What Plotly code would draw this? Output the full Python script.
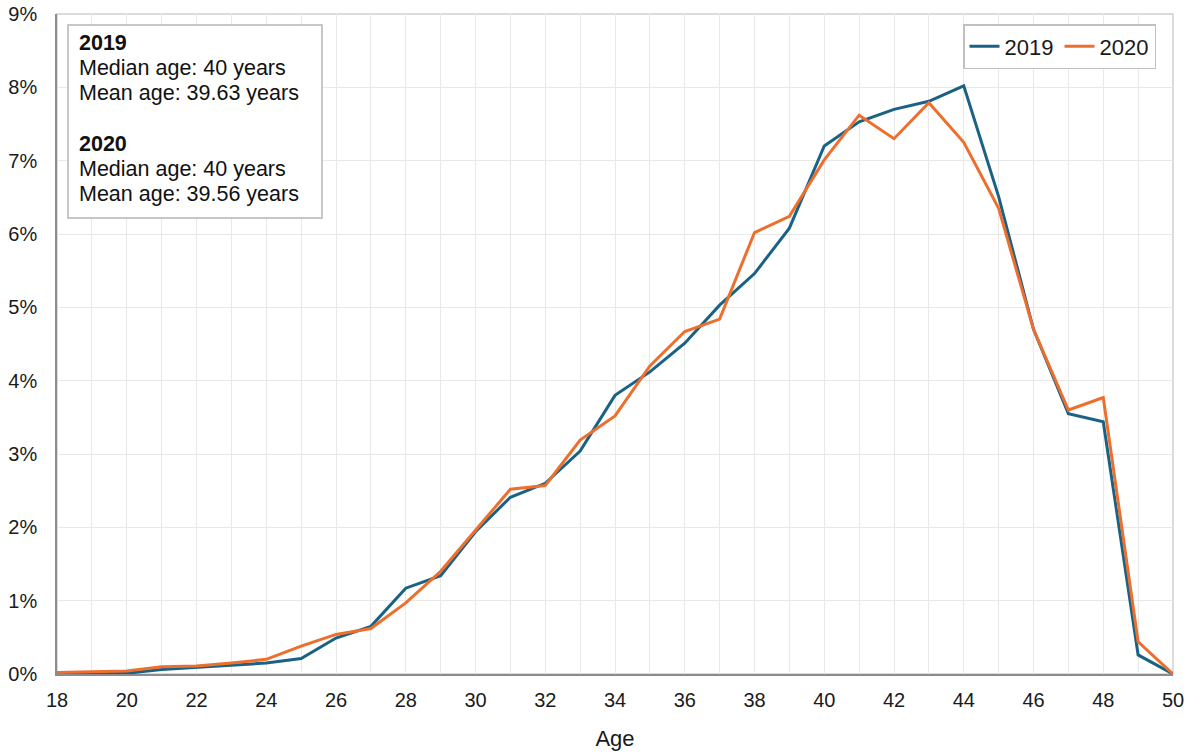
import plotly.graph_objects as go

ages = list(range(18, 51))
share_2019 = [0.00, 0.01, 0.01, 0.06, 0.09, 0.12, 0.15, 0.21, 0.49, 0.65, 1.17, 1.34,
              1.94, 2.41, 2.60, 3.04, 3.80, 4.12, 4.51, 5.03, 5.46, 6.08, 7.20, 7.53,
              7.70, 7.81, 8.02, 6.51, 4.70, 3.55, 3.44, 0.26, 0.00]
share_2020 = [0.02, 0.03, 0.04, 0.10, 0.11, 0.15, 0.20, 0.38, 0.54, 0.62, 0.97, 1.40,
              1.96, 2.52, 2.57, 3.19, 3.52, 4.20, 4.67, 4.84, 6.02, 6.24, 7.01, 7.62,
              7.30, 7.79, 7.25, 6.35, 4.70, 3.60, 3.77, 0.44, 0.00]
series_names = ["2019", "2020"]
colors = ["#1a6285", "#ee6f2d"]
x_ticks = list(range(18, 51, 2))
y_ticks = list(range(0, 10))
y_tick_text = [f"{v}%" for v in y_ticks]
box_lines = ["<b>2019</b>", "Median age: 40 years", "Mean age: 39.63 years", "",
             "<b>2020</b>", "Median age: 40 years", "Mean age: 39.56 years"]

FONT = "Liberation Sans, Arial, sans-serif"

fig = go.Figure()
for name, vals, col in zip(series_names, [share_2019, share_2020], colors):
    fig.add_trace(go.Scatter(x=ages, y=vals, name=name, mode="lines",
                             line=dict(color=col, width=3)))

W, H = 1188, 756
PL, PT, PR, PB = 57, 14, 1173, 674          # plot area in window pixels
L, T, R, B = PL, PT, W - PR, H - PB
pw, ph = PR - PL, PB - PT


def px(x):
    return (x - PL) / pw


def py(y):
    return 1 - (y - PT) / ph


fig.update_layout(
    width=W, height=H,
    margin=dict(l=L, r=R, t=T, b=B, pad=0, autoexpand=False),
    paper_bgcolor="white", plot_bgcolor="white",
    font=dict(family=FONT, size=21, color="#1a1a1a"),
    showlegend=True,
    legend=dict(orientation="h", x=px(1156), xanchor="right",
                y=py(24), yanchor="top",
                bordercolor="#c0c0c0", borderwidth=1.5, bgcolor="white",
                font=dict(size=22, family=FONT), itemwidth=30,
                tracegroupgap=0, entrywidth=50),
)
fig.update_xaxes(range=[18, 50], tickvals=x_ticks, showgrid=True, gridcolor="#e8e8e8",
                 minor=dict(dtick=1, showgrid=True, gridcolor="#e8e8e8"),
                 showline=True, linecolor="#8c8c8c", linewidth=1.5, automargin=False,
                 zeroline=False, ticks="", ticklabelstandoff=7, ticklabeloverflow="allow",
                 tickfont=dict(size=20, family=FONT),
                 title=dict(text="Age", font=dict(size=22, family=FONT), standoff=21))
fig.update_yaxes(range=[0, 9], tickvals=y_ticks, ticktext=y_tick_text, showgrid=True,
                 gridcolor="#e8e8e8", showline=True, linecolor="#8c8c8c", linewidth=1.5,
                 zeroline=False, ticks="", ticklabelstandoff=14, automargin=False,
                 ticklabeloverflow="allow", tickfont=dict(size=20, family=FONT))

# light frame on top/right
fig.add_shape(type="rect", xref="paper", yref="paper", x0=0, x1=1, y0=0, y1=1,
              line=dict(color="#cfcfcf", width=1.5), layer="below")

# annotation box
bx0, bx1, by0, by1 = 68, 322, 25, 218
fig.add_shape(type="rect", xref="paper", yref="paper",
              x0=px(bx0), x1=px(bx1), y0=py(by1), y1=py(by0),
              line=dict(color="#b5b5b5", width=1.5), fillcolor="white", layer="above")
line_y0 = 43
for i, txt in enumerate(box_lines):
    if not txt:
        continue
    yc = line_y0 + i * 25.2
    fig.add_annotation(xref="paper", yref="paper", x=px(77), y=py(yc),
                       xanchor="left", yanchor="middle",
                       text=txt, showarrow=False,
                       font=dict(size=21.5, family=FONT, color="#111111"))

fig.write_html("out.html", config={"displayModeBar": False},
               post_script="document.body.style.margin='0';")
